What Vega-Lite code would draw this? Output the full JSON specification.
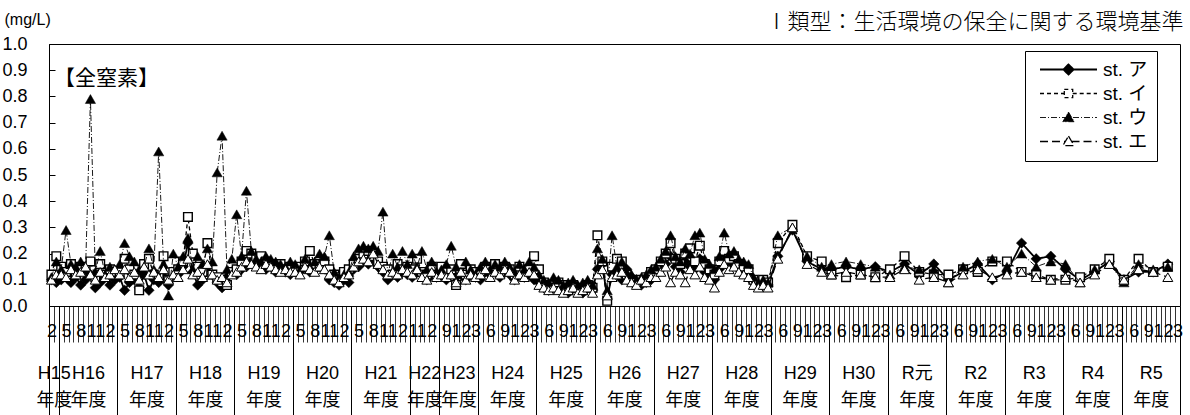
{
"$schema":"https://vega.github.io/schema/vega-lite/v6.json",
"width":1131,"height":262,
"autosize":{"type":"none"},
"padding":{"left":49,"top":44,"right":10,"bottom":109},
"background":"white",
"config":{"view":{"stroke":"black","strokeWidth":1},"font":"Liberation Sans, Noto Sans CJK JP"},
"params":[
{"name":"yb","value":[0.5,2.5,14.5,26.5,38.5,50.5,62.5,74.5,80.5,88.5,100.5,112.5,124.5,136.5,148.5,160.5,172.5,184.5,196.5,208.5,220.5,232.5]},
{"name":"yc","value":[1.5,8.5,20.5,32.5,44.5,56.5,68.5,77.5,84.5,94.5,106.5,118.5,130.5,142.5,154.5,166.5,178.5,190.5,202.5,214.5,226.5]},
{"name":"yl","value":["H15","H16","H17","H18","H19","H20","H21","H22","H23","H24","H25","H26","H27","H28","H29","H30","R元","R2","R3","R4","R5"]}
],
"title":{"text":"【全窒素】","anchor":"start","frame":"group","orient":"top","offset":-90,"baseline":"middle","dx":5,"fontSize":21,"fontWeight":"normal","font":"Noto Sans CJK JP","color":"black"},
"data":{"values":[
{"t":1,"s":"ア","v":0.1},{"t":2,"s":"ア","v":0.09},{"t":3,"s":"ア","v":0.1},{"t":4,"s":"ア","v":0.12},{"t":5,"s":"ア","v":0.09},{"t":6,"s":"ア","v":0.11},{"t":7,"s":"ア","v":0.08},{"t":8,"s":"ア","v":0.1},{"t":9,"s":"ア","v":0.12},{"t":10,"s":"ア","v":0.07},{"t":11,"s":"ア","v":0.09},{"t":12,"s":"ア","v":0.11},{"t":13,"s":"ア","v":0.08},{"t":14,"s":"ア","v":0.1},
{"t":15,"s":"ア","v":0.11},{"t":16,"s":"ア","v":0.06},{"t":17,"s":"ア","v":0.09},{"t":18,"s":"ア","v":0.1},{"t":19,"s":"ア","v":0.07},{"t":20,"s":"ア","v":0.12},{"t":21,"s":"ア","v":0.06},{"t":22,"s":"ア","v":0.1},{"t":23,"s":"ア","v":0.09},{"t":24,"s":"ア","v":0.11},{"t":25,"s":"ア","v":0.08},{"t":26,"s":"ア","v":0.12},
{"t":27,"s":"ア","v":0.12},{"t":28,"s":"ア","v":0.15},{"t":29,"s":"ア","v":0.24},{"t":30,"s":"ア","v":0.13},{"t":31,"s":"ア","v":0.08},{"t":32,"s":"ア","v":0.1},{"t":33,"s":"ア","v":0.15},{"t":34,"s":"ア","v":0.12},{"t":35,"s":"ア","v":0.09},{"t":36,"s":"ア","v":0.07},{"t":37,"s":"ア","v":0.11},{"t":38,"s":"ア","v":0.13},
{"t":39,"s":"ア","v":0.12},{"t":40,"s":"ア","v":0.14},{"t":41,"s":"ア","v":0.15},{"t":42,"s":"ア","v":0.17},{"t":43,"s":"ア","v":0.16},{"t":44,"s":"ア","v":0.15},{"t":45,"s":"ア","v":0.14},{"t":46,"s":"ア","v":0.16},{"t":47,"s":"ア","v":0.13},{"t":48,"s":"ア","v":0.15},{"t":49,"s":"ア","v":0.13},{"t":50,"s":"ア","v":0.12},
{"t":51,"s":"ア","v":0.13},{"t":52,"s":"ア","v":0.14},{"t":53,"s":"ア","v":0.15},{"t":54,"s":"ア","v":0.13},{"t":55,"s":"ア","v":0.14},{"t":56,"s":"ア","v":0.16},{"t":57,"s":"ア","v":0.15},{"t":58,"s":"ア","v":0.1},{"t":59,"s":"ア","v":0.09},{"t":60,"s":"ア","v":0.08},{"t":61,"s":"ア","v":0.1},{"t":62,"s":"ア","v":0.09},
{"t":63,"s":"ア","v":0.14},{"t":64,"s":"ア","v":0.15},{"t":65,"s":"ア","v":0.17},{"t":66,"s":"ア","v":0.16},{"t":67,"s":"ア","v":0.18},{"t":68,"s":"ア","v":0.15},{"t":69,"s":"ア","v":0.13},{"t":70,"s":"ア","v":0.1},{"t":71,"s":"ア","v":0.12},{"t":72,"s":"ア","v":0.11},{"t":73,"s":"ア","v":0.13},{"t":74,"s":"ア","v":0.12},
{"t":75,"s":"ア","v":0.11},{"t":76,"s":"ア","v":0.13},{"t":77,"s":"ア","v":0.12},{"t":78,"s":"ア","v":0.1},{"t":79,"s":"ア","v":0.12},{"t":80,"s":"ア","v":0.11},
{"t":81,"s":"ア","v":0.12},{"t":82,"s":"ア","v":0.1},{"t":83,"s":"ア","v":0.13},{"t":84,"s":"ア","v":0.11},{"t":85,"s":"ア","v":0.12},{"t":86,"s":"ア","v":0.1},{"t":87,"s":"ア","v":0.13},{"t":88,"s":"ア","v":0.11},
{"t":89,"s":"ア","v":0.1},{"t":90,"s":"ア","v":0.13},{"t":91,"s":"ア","v":0.12},{"t":92,"s":"ア","v":0.14},{"t":93,"s":"ア","v":0.11},{"t":94,"s":"ア","v":0.13},{"t":95,"s":"ア","v":0.12},{"t":96,"s":"ア","v":0.1},{"t":97,"s":"ア","v":0.13},{"t":98,"s":"ア","v":0.11},{"t":99,"s":"ア","v":0.12},{"t":100,"s":"ア","v":0.1},
{"t":101,"s":"ア","v":0.09},{"t":102,"s":"ア","v":0.07},{"t":103,"s":"ア","v":0.06},{"t":104,"s":"ア","v":0.08},{"t":105,"s":"ア","v":0.07},{"t":106,"s":"ア","v":0.06},{"t":107,"s":"ア","v":0.05},{"t":108,"s":"ア","v":0.07},{"t":109,"s":"ア","v":0.06},{"t":110,"s":"ア","v":0.05},{"t":111,"s":"ア","v":0.07},{"t":112,"s":"ア","v":0.06},
{"t":113,"s":"ア","v":0.14},{"t":114,"s":"ア","v":0.16},{"t":115,"s":"ア","v":0.03},{"t":116,"s":"ア","v":0.12},{"t":117,"s":"ア","v":0.13},{"t":118,"s":"ア","v":0.1},{"t":119,"s":"ア","v":0.14},{"t":120,"s":"ア","v":0.11},{"t":121,"s":"ア","v":0.1},{"t":122,"s":"ア","v":0.08},{"t":123,"s":"ア","v":0.09},{"t":124,"s":"ア","v":0.1},
{"t":125,"s":"ア","v":0.12},{"t":126,"s":"ア","v":0.14},{"t":127,"s":"ア","v":0.16},{"t":128,"s":"ア","v":0.19},{"t":129,"s":"ア","v":0.15},{"t":130,"s":"ア","v":0.13},{"t":131,"s":"ア","v":0.17},{"t":132,"s":"ア","v":0.15},{"t":133,"s":"ア","v":0.14},{"t":134,"s":"ア","v":0.18},{"t":135,"s":"ア","v":0.13},{"t":136,"s":"ア","v":0.12},
{"t":137,"s":"ア","v":0.1},{"t":138,"s":"ア","v":0.14},{"t":139,"s":"ア","v":0.18},{"t":140,"s":"ア","v":0.15},{"t":141,"s":"ア","v":0.17},{"t":142,"s":"ア","v":0.14},{"t":143,"s":"ア","v":0.13},{"t":144,"s":"ア","v":0.12},{"t":145,"s":"ア","v":0.09},{"t":146,"s":"ア","v":0.08},{"t":147,"s":"ア","v":0.09},{"t":148,"s":"ア","v":0.08},
{"t":150,"s":"ア","v":0.19},{"t":153,"s":"ア","v":0.29},{"t":156,"s":"ア","v":0.17},{"t":159,"s":"ア","v":0.14},
{"t":161,"s":"ア","v":0.14},{"t":164,"s":"ア","v":0.15},{"t":167,"s":"ア","v":0.14},{"t":170,"s":"ア","v":0.15},
{"t":173,"s":"ア","v":0.13},{"t":176,"s":"ア","v":0.16},{"t":179,"s":"ア","v":0.12},{"t":182,"s":"ア","v":0.16},
{"t":185,"s":"ア","v":0.1},{"t":188,"s":"ア","v":0.13},{"t":191,"s":"ア","v":0.16},{"t":194,"s":"ア","v":0.1},
{"t":197,"s":"ア","v":0.13},{"t":200,"s":"ア","v":0.24},{"t":203,"s":"ア","v":0.18},{"t":206,"s":"ア","v":0.19},
{"t":209,"s":"ア","v":0.14},{"t":212,"s":"ア","v":0.1},{"t":215,"s":"ア","v":0.13},{"t":218,"s":"ア","v":0.17},
{"t":221,"s":"ア","v":0.1},{"t":224,"s":"ア","v":0.13},{"t":227,"s":"ア","v":0.13},{"t":230,"s":"ア","v":0.16},

{"t":1,"s":"イ","v":0.12},{"t":2,"s":"イ","v":0.19},{"t":3,"s":"イ","v":0.15},{"t":4,"s":"イ","v":0.13},{"t":5,"s":"イ","v":0.16},{"t":6,"s":"イ","v":0.12},{"t":7,"s":"イ","v":0.15},{"t":8,"s":"イ","v":0.14},{"t":9,"s":"イ","v":0.17},{"t":10,"s":"イ","v":0.11},{"t":11,"s":"イ","v":0.16},{"t":12,"s":"イ","v":0.12},{"t":13,"s":"イ","v":0.14},{"t":14,"s":"イ","v":0.13},
{"t":15,"s":"イ","v":0.13},{"t":16,"s":"イ","v":0.18},{"t":17,"s":"イ","v":0.14},{"t":18,"s":"イ","v":0.12},{"t":19,"s":"イ","v":0.06},{"t":20,"s":"イ","v":0.16},{"t":21,"s":"イ","v":0.18},{"t":22,"s":"イ","v":0.12},{"t":23,"s":"イ","v":0.11},{"t":24,"s":"イ","v":0.19},{"t":25,"s":"イ","v":0.1},{"t":26,"s":"イ","v":0.13},
{"t":27,"s":"イ","v":0.14},{"t":28,"s":"イ","v":0.17},{"t":29,"s":"イ","v":0.34},{"t":30,"s":"イ","v":0.2},{"t":31,"s":"イ","v":0.15},{"t":32,"s":"イ","v":0.13},{"t":33,"s":"イ","v":0.24},{"t":34,"s":"イ","v":0.12},{"t":35,"s":"イ","v":0.11},{"t":36,"s":"イ","v":0.09},{"t":37,"s":"イ","v":0.08},{"t":38,"s":"イ","v":0.13},
{"t":39,"s":"イ","v":0.14},{"t":40,"s":"イ","v":0.17},{"t":41,"s":"イ","v":0.21},{"t":42,"s":"イ","v":0.2},{"t":43,"s":"イ","v":0.18},{"t":44,"s":"イ","v":0.19},{"t":45,"s":"イ","v":0.17},{"t":46,"s":"イ","v":0.16},{"t":47,"s":"イ","v":0.15},{"t":48,"s":"イ","v":0.16},{"t":49,"s":"イ","v":0.14},{"t":50,"s":"イ","v":0.15},
{"t":51,"s":"イ","v":0.14},{"t":52,"s":"イ","v":0.15},{"t":53,"s":"イ","v":0.17},{"t":54,"s":"イ","v":0.21},{"t":55,"s":"イ","v":0.16},{"t":56,"s":"イ","v":0.15},{"t":57,"s":"イ","v":0.17},{"t":58,"s":"イ","v":0.14},{"t":59,"s":"イ","v":0.12},{"t":60,"s":"イ","v":0.11},{"t":61,"s":"イ","v":0.13},{"t":62,"s":"イ","v":0.14},
{"t":63,"s":"イ","v":0.16},{"t":64,"s":"イ","v":0.18},{"t":65,"s":"イ","v":0.2},{"t":66,"s":"イ","v":0.21},{"t":67,"s":"イ","v":0.19},{"t":68,"s":"イ","v":0.17},{"t":69,"s":"イ","v":0.15},{"t":70,"s":"イ","v":0.14},{"t":71,"s":"イ","v":0.12},{"t":72,"s":"イ","v":0.16},{"t":73,"s":"イ","v":0.14},{"t":74,"s":"イ","v":0.15},
{"t":75,"s":"イ","v":0.14},{"t":76,"s":"イ","v":0.18},{"t":77,"s":"イ","v":0.13},{"t":78,"s":"イ","v":0.12},{"t":79,"s":"イ","v":0.15},{"t":80,"s":"イ","v":0.12},
{"t":81,"s":"イ","v":0.15},{"t":82,"s":"イ","v":0.13},{"t":83,"s":"イ","v":0.14},{"t":84,"s":"イ","v":0.08},{"t":85,"s":"イ","v":0.16},{"t":86,"s":"イ","v":0.12},{"t":87,"s":"イ","v":0.14},{"t":88,"s":"イ","v":0.13},
{"t":89,"s":"イ","v":0.13},{"t":90,"s":"イ","v":0.15},{"t":91,"s":"イ","v":0.14},{"t":92,"s":"イ","v":0.16},{"t":93,"s":"イ","v":0.13},{"t":94,"s":"イ","v":0.15},{"t":95,"s":"イ","v":0.14},{"t":96,"s":"イ","v":0.12},{"t":97,"s":"イ","v":0.15},{"t":98,"s":"イ","v":0.13},{"t":99,"s":"イ","v":0.14},{"t":100,"s":"イ","v":0.19},
{"t":101,"s":"イ","v":0.14},{"t":102,"s":"イ","v":0.09},{"t":103,"s":"イ","v":0.08},{"t":104,"s":"イ","v":0.07},{"t":105,"s":"イ","v":0.09},{"t":106,"s":"イ","v":0.08},{"t":107,"s":"イ","v":0.06},{"t":108,"s":"イ","v":0.08},{"t":109,"s":"イ","v":0.07},{"t":110,"s":"イ","v":0.06},{"t":111,"s":"イ","v":0.08},{"t":112,"s":"イ","v":0.07},
{"t":113,"s":"イ","v":0.27},{"t":114,"s":"イ","v":0.17},{"t":115,"s":"イ","v":0.02},{"t":116,"s":"イ","v":0.15},{"t":117,"s":"イ","v":0.18},{"t":118,"s":"イ","v":0.17},{"t":119,"s":"イ","v":0.12},{"t":120,"s":"イ","v":0.1},{"t":121,"s":"イ","v":0.09},{"t":122,"s":"イ","v":0.1},{"t":123,"s":"イ","v":0.11},{"t":124,"s":"イ","v":0.13},
{"t":125,"s":"イ","v":0.14},{"t":126,"s":"イ","v":0.17},{"t":127,"s":"イ","v":0.2},{"t":128,"s":"イ","v":0.24},{"t":129,"s":"イ","v":0.18},{"t":130,"s":"イ","v":0.16},{"t":131,"s":"イ","v":0.2},{"t":132,"s":"イ","v":0.22},{"t":133,"s":"イ","v":0.17},{"t":134,"s":"イ","v":0.23},{"t":135,"s":"イ","v":0.16},{"t":136,"s":"イ","v":0.14},
{"t":137,"s":"イ","v":0.12},{"t":138,"s":"イ","v":0.17},{"t":139,"s":"イ","v":0.21},{"t":140,"s":"イ","v":0.18},{"t":141,"s":"イ","v":0.19},{"t":142,"s":"イ","v":0.16},{"t":143,"s":"イ","v":0.15},{"t":144,"s":"イ","v":0.14},{"t":145,"s":"イ","v":0.1},{"t":146,"s":"イ","v":0.09},{"t":147,"s":"イ","v":0.1},{"t":148,"s":"イ","v":0.09},
{"t":150,"s":"イ","v":0.24},{"t":153,"s":"イ","v":0.31},{"t":156,"s":"イ","v":0.19},{"t":159,"s":"イ","v":0.17},
{"t":161,"s":"イ","v":0.12},{"t":164,"s":"イ","v":0.11},{"t":167,"s":"イ","v":0.12},{"t":170,"s":"イ","v":0.11},
{"t":173,"s":"イ","v":0.14},{"t":176,"s":"イ","v":0.19},{"t":179,"s":"イ","v":0.13},{"t":182,"s":"イ","v":0.12},
{"t":185,"s":"イ","v":0.12},{"t":188,"s":"イ","v":0.14},{"t":191,"s":"イ","v":0.13},{"t":194,"s":"イ","v":0.17},
{"t":197,"s":"イ","v":0.17},{"t":200,"s":"イ","v":0.13},{"t":203,"s":"イ","v":0.12},{"t":206,"s":"イ","v":0.1},
{"t":209,"s":"イ","v":0.1},{"t":212,"s":"イ","v":0.11},{"t":215,"s":"イ","v":0.14},{"t":218,"s":"イ","v":0.18},
{"t":221,"s":"イ","v":0.1},{"t":224,"s":"イ","v":0.18},{"t":227,"s":"イ","v":0.13},{"t":230,"s":"イ","v":0.15},

{"t":1,"s":"ウ","v":0.11},{"t":2,"s":"ウ","v":0.17},{"t":3,"s":"ウ","v":0.14},{"t":4,"s":"ウ","v":0.29},{"t":5,"s":"ウ","v":0.16},{"t":6,"s":"ウ","v":0.15},{"t":7,"s":"ウ","v":0.17},{"t":8,"s":"ウ","v":0.14},{"t":9,"s":"ウ","v":0.79},{"t":10,"s":"ウ","v":0.13},{"t":11,"s":"ウ","v":0.21},{"t":12,"s":"ウ","v":0.12},{"t":13,"s":"ウ","v":0.15},{"t":14,"s":"ウ","v":0.14},
{"t":15,"s":"ウ","v":0.16},{"t":16,"s":"ウ","v":0.24},{"t":17,"s":"ウ","v":0.19},{"t":18,"s":"ウ","v":0.17},{"t":19,"s":"ウ","v":0.14},{"t":20,"s":"ウ","v":0.15},{"t":21,"s":"ウ","v":0.22},{"t":22,"s":"ウ","v":0.14},{"t":23,"s":"ウ","v":0.59},{"t":24,"s":"ウ","v":0.16},{"t":25,"s":"ウ","v":0.04},{"t":26,"s":"ウ","v":0.2},
{"t":27,"s":"ウ","v":0.15},{"t":28,"s":"ウ","v":0.19},{"t":29,"s":"ウ","v":0.26},{"t":30,"s":"ウ","v":0.14},{"t":31,"s":"ウ","v":0.19},{"t":32,"s":"ウ","v":0.16},{"t":33,"s":"ウ","v":0.22},{"t":34,"s":"ウ","v":0.17},{"t":35,"s":"ウ","v":0.51},{"t":36,"s":"ウ","v":0.65},{"t":37,"s":"ウ","v":0.14},{"t":38,"s":"ウ","v":0.18},
{"t":39,"s":"ウ","v":0.35},{"t":40,"s":"ウ","v":0.19},{"t":41,"s":"ウ","v":0.44},{"t":42,"s":"ウ","v":0.21},{"t":43,"s":"ウ","v":0.18},{"t":44,"s":"ウ","v":0.17},{"t":45,"s":"ウ","v":0.19},{"t":46,"s":"ウ","v":0.18},{"t":47,"s":"ウ","v":0.17},{"t":48,"s":"ウ","v":0.16},{"t":49,"s":"ウ","v":0.15},{"t":50,"s":"ウ","v":0.17},
{"t":51,"s":"ウ","v":0.16},{"t":52,"s":"ウ","v":0.14},{"t":53,"s":"ウ","v":0.18},{"t":54,"s":"ウ","v":0.15},{"t":55,"s":"ウ","v":0.17},{"t":56,"s":"ウ","v":0.2},{"t":57,"s":"ウ","v":0.19},{"t":58,"s":"ウ","v":0.27},{"t":59,"s":"ウ","v":0.13},{"t":60,"s":"ウ","v":0.11},{"t":61,"s":"ウ","v":0.12},{"t":62,"s":"ウ","v":0.13},
{"t":63,"s":"ウ","v":0.19},{"t":64,"s":"ウ","v":0.22},{"t":65,"s":"ウ","v":0.23},{"t":66,"s":"ウ","v":0.22},{"t":67,"s":"ウ","v":0.23},{"t":68,"s":"ウ","v":0.21},{"t":69,"s":"ウ","v":0.36},{"t":70,"s":"ウ","v":0.12},{"t":71,"s":"ウ","v":0.2},{"t":72,"s":"ウ","v":0.15},{"t":73,"s":"ウ","v":0.21},{"t":74,"s":"ウ","v":0.16},
{"t":75,"s":"ウ","v":0.2},{"t":76,"s":"ウ","v":0.15},{"t":77,"s":"ウ","v":0.21},{"t":78,"s":"ウ","v":0.14},{"t":79,"s":"ウ","v":0.17},{"t":80,"s":"ウ","v":0.13},
{"t":81,"s":"ウ","v":0.14},{"t":82,"s":"ウ","v":0.16},{"t":83,"s":"ウ","v":0.23},{"t":84,"s":"ウ","v":0.15},{"t":85,"s":"ウ","v":0.13},{"t":86,"s":"ウ","v":0.17},{"t":87,"s":"ウ","v":0.14},{"t":88,"s":"ウ","v":0.12},
{"t":89,"s":"ウ","v":0.15},{"t":90,"s":"ウ","v":0.17},{"t":91,"s":"ウ","v":0.14},{"t":92,"s":"ウ","v":0.16},{"t":93,"s":"ウ","v":0.15},{"t":94,"s":"ウ","v":0.17},{"t":95,"s":"ウ","v":0.15},{"t":96,"s":"ウ","v":0.13},{"t":97,"s":"ウ","v":0.16},{"t":98,"s":"ウ","v":0.14},{"t":99,"s":"ウ","v":0.17},{"t":100,"s":"ウ","v":0.15},
{"t":101,"s":"ウ","v":0.12},{"t":102,"s":"ウ","v":0.1},{"t":103,"s":"ウ","v":0.09},{"t":104,"s":"ウ","v":0.11},{"t":105,"s":"ウ","v":0.1},{"t":106,"s":"ウ","v":0.08},{"t":107,"s":"ウ","v":0.09},{"t":108,"s":"ウ","v":0.1},{"t":109,"s":"ウ","v":0.08},{"t":110,"s":"ウ","v":0.09},{"t":111,"s":"ウ","v":0.1},{"t":112,"s":"ウ","v":0.08},
{"t":113,"s":"ウ","v":0.22},{"t":114,"s":"ウ","v":0.18},{"t":115,"s":"ウ","v":0.06},{"t":116,"s":"ウ","v":0.27},{"t":117,"s":"ウ","v":0.15},{"t":118,"s":"ウ","v":0.17},{"t":119,"s":"ウ","v":0.13},{"t":120,"s":"ウ","v":0.12},{"t":121,"s":"ウ","v":0.1},{"t":122,"s":"ウ","v":0.11},{"t":123,"s":"ウ","v":0.12},{"t":124,"s":"ウ","v":0.14},
{"t":125,"s":"ウ","v":0.15},{"t":126,"s":"ウ","v":0.18},{"t":127,"s":"ウ","v":0.21},{"t":128,"s":"ウ","v":0.27},{"t":129,"s":"ウ","v":0.19},{"t":130,"s":"ウ","v":0.17},{"t":131,"s":"ウ","v":0.22},{"t":132,"s":"ウ","v":0.2},{"t":133,"s":"ウ","v":0.27},{"t":134,"s":"ウ","v":0.28},{"t":135,"s":"ウ","v":0.18},{"t":136,"s":"ウ","v":0.16},
{"t":137,"s":"ウ","v":0.14},{"t":138,"s":"ウ","v":0.19},{"t":139,"s":"ウ","v":0.28},{"t":140,"s":"ウ","v":0.2},{"t":141,"s":"ウ","v":0.21},{"t":142,"s":"ウ","v":0.18},{"t":143,"s":"ウ","v":0.17},{"t":144,"s":"ウ","v":0.16},{"t":145,"s":"ウ","v":0.11},{"t":146,"s":"ウ","v":0.09},{"t":147,"s":"ウ","v":0.1},{"t":148,"s":"ウ","v":0.09},
{"t":150,"s":"ウ","v":0.27},{"t":153,"s":"ウ","v":0.3},{"t":156,"s":"ウ","v":0.19},{"t":159,"s":"ウ","v":0.15},
{"t":161,"s":"ウ","v":0.16},{"t":164,"s":"ウ","v":0.17},{"t":167,"s":"ウ","v":0.16},{"t":170,"s":"ウ","v":0.15},
{"t":173,"s":"ウ","v":0.12},{"t":176,"s":"ウ","v":0.15},{"t":179,"s":"ウ","v":0.14},{"t":182,"s":"ウ","v":0.14},
{"t":185,"s":"ウ","v":0.09},{"t":188,"s":"ウ","v":0.15},{"t":191,"s":"ウ","v":0.17},{"t":194,"s":"ウ","v":0.18},
{"t":197,"s":"ウ","v":0.15},{"t":200,"s":"ウ","v":0.2},{"t":203,"s":"ウ","v":0.15},{"t":206,"s":"ウ","v":0.17},
{"t":209,"s":"ウ","v":0.16},{"t":212,"s":"ウ","v":0.09},{"t":215,"s":"ウ","v":0.14},{"t":218,"s":"ウ","v":0.16},
{"t":221,"s":"ウ","v":0.09},{"t":224,"s":"ウ","v":0.16},{"t":227,"s":"ウ","v":0.14},{"t":230,"s":"ウ","v":0.15},

{"t":1,"s":"エ","v":0.1},{"t":2,"s":"エ","v":0.12},{"t":3,"s":"エ","v":0.12},{"t":4,"s":"エ","v":0.11},{"t":5,"s":"エ","v":0.14},{"t":6,"s":"エ","v":0.12},{"t":7,"s":"エ","v":0.13},{"t":8,"s":"エ","v":0.15},{"t":9,"s":"エ","v":0.12},{"t":10,"s":"エ","v":0.1},{"t":11,"s":"エ","v":0.13},{"t":12,"s":"エ","v":0.11},{"t":13,"s":"エ","v":0.12},{"t":14,"s":"エ","v":0.14},
{"t":15,"s":"エ","v":0.12},{"t":16,"s":"エ","v":0.14},{"t":17,"s":"エ","v":0.11},{"t":18,"s":"エ","v":0.13},{"t":19,"s":"エ","v":0.1},{"t":20,"s":"エ","v":0.15},{"t":21,"s":"エ","v":0.12},{"t":22,"s":"エ","v":0.13},{"t":23,"s":"エ","v":0.11},{"t":24,"s":"エ","v":0.14},{"t":25,"s":"エ","v":0.1},{"t":26,"s":"エ","v":0.12},
{"t":27,"s":"エ","v":0.11},{"t":28,"s":"エ","v":0.14},{"t":29,"s":"エ","v":0.18},{"t":30,"s":"エ","v":0.12},{"t":31,"s":"エ","v":0.13},{"t":32,"s":"エ","v":0.11},{"t":33,"s":"エ","v":0.16},{"t":34,"s":"エ","v":0.12},{"t":35,"s":"エ","v":0.1},{"t":36,"s":"エ","v":0.11},{"t":37,"s":"エ","v":0.09},{"t":38,"s":"エ","v":0.12},
{"t":39,"s":"エ","v":0.13},{"t":40,"s":"エ","v":0.15},{"t":41,"s":"エ","v":0.17},{"t":42,"s":"エ","v":0.16},{"t":43,"s":"エ","v":0.15},{"t":44,"s":"エ","v":0.14},{"t":45,"s":"エ","v":0.16},{"t":46,"s":"エ","v":0.15},{"t":47,"s":"エ","v":0.14},{"t":48,"s":"エ","v":0.13},{"t":49,"s":"エ","v":0.14},{"t":50,"s":"エ","v":0.13},
{"t":51,"s":"エ","v":0.13},{"t":52,"s":"エ","v":0.12},{"t":53,"s":"エ","v":0.15},{"t":54,"s":"エ","v":0.14},{"t":55,"s":"エ","v":0.13},{"t":56,"s":"エ","v":0.15},{"t":57,"s":"エ","v":0.14},{"t":58,"s":"エ","v":0.12},{"t":59,"s":"エ","v":0.1},{"t":60,"s":"エ","v":0.09},{"t":61,"s":"エ","v":0.11},{"t":62,"s":"エ","v":0.12},
{"t":63,"s":"エ","v":0.15},{"t":64,"s":"エ","v":0.17},{"t":65,"s":"エ","v":0.18},{"t":66,"s":"エ","v":0.17},{"t":67,"s":"エ","v":0.2},{"t":68,"s":"エ","v":0.16},{"t":69,"s":"エ","v":0.14},{"t":70,"s":"エ","v":0.12},{"t":71,"s":"エ","v":0.13},{"t":72,"s":"エ","v":0.12},{"t":73,"s":"エ","v":0.14},{"t":74,"s":"エ","v":0.13},
{"t":75,"s":"エ","v":0.12},{"t":76,"s":"エ","v":0.14},{"t":77,"s":"エ","v":0.11},{"t":78,"s":"エ","v":0.1},{"t":79,"s":"エ","v":0.13},{"t":80,"s":"エ","v":0.11},
{"t":81,"s":"エ","v":0.12},{"t":82,"s":"エ","v":0.11},{"t":83,"s":"エ","v":0.12},{"t":84,"s":"エ","v":0.09},{"t":85,"s":"エ","v":0.13},{"t":86,"s":"エ","v":0.1},{"t":87,"s":"エ","v":0.12},{"t":88,"s":"エ","v":0.11},
{"t":89,"s":"エ","v":0.12},{"t":90,"s":"エ","v":0.14},{"t":91,"s":"エ","v":0.11},{"t":92,"s":"エ","v":0.13},{"t":93,"s":"エ","v":0.12},{"t":94,"s":"エ","v":0.14},{"t":95,"s":"エ","v":0.13},{"t":96,"s":"エ","v":0.1},{"t":97,"s":"エ","v":0.12},{"t":98,"s":"エ","v":0.11},{"t":99,"s":"エ","v":0.13},{"t":100,"s":"エ","v":0.12},
{"t":101,"s":"エ","v":0.08},{"t":102,"s":"エ","v":0.07},{"t":103,"s":"エ","v":0.06},{"t":104,"s":"エ","v":0.07},{"t":105,"s":"エ","v":0.06},{"t":106,"s":"エ","v":0.05},{"t":107,"s":"エ","v":0.06},{"t":108,"s":"エ","v":0.07},{"t":109,"s":"エ","v":0.05},{"t":110,"s":"エ","v":0.06},{"t":111,"s":"エ","v":0.07},{"t":112,"s":"エ","v":0.05},
{"t":113,"s":"エ","v":0.12},{"t":114,"s":"エ","v":0.14},{"t":115,"s":"エ","v":0.04},{"t":116,"s":"エ","v":0.11},{"t":117,"s":"エ","v":0.12},{"t":118,"s":"エ","v":0.13},{"t":119,"s":"エ","v":0.1},{"t":120,"s":"エ","v":0.09},{"t":121,"s":"エ","v":0.08},{"t":122,"s":"エ","v":0.1},{"t":123,"s":"エ","v":0.09},{"t":124,"s":"エ","v":0.11},
{"t":125,"s":"エ","v":0.11},{"t":126,"s":"エ","v":0.13},{"t":127,"s":"エ","v":0.15},{"t":128,"s":"エ","v":0.09},{"t":129,"s":"エ","v":0.13},{"t":130,"s":"エ","v":0.12},{"t":131,"s":"エ","v":0.09},{"t":132,"s":"エ","v":0.14},{"t":133,"s":"エ","v":0.12},{"t":134,"s":"エ","v":0.15},{"t":135,"s":"エ","v":0.11},{"t":136,"s":"エ","v":0.1},
{"t":137,"s":"エ","v":0.07},{"t":138,"s":"エ","v":0.13},{"t":139,"s":"エ","v":0.16},{"t":140,"s":"エ","v":0.14},{"t":141,"s":"エ","v":0.15},{"t":142,"s":"エ","v":0.13},{"t":143,"s":"エ","v":0.12},{"t":144,"s":"エ","v":0.11},{"t":145,"s":"エ","v":0.08},{"t":146,"s":"エ","v":0.07},{"t":147,"s":"エ","v":0.08},{"t":148,"s":"エ","v":0.07},
{"t":150,"s":"エ","v":0.18},{"t":153,"s":"エ","v":0.3},{"t":156,"s":"エ","v":0.16},{"t":159,"s":"エ","v":0.13},
{"t":161,"s":"エ","v":0.12},{"t":164,"s":"エ","v":0.13},{"t":167,"s":"エ","v":0.12},{"t":170,"s":"エ","v":0.11},
{"t":173,"s":"エ","v":0.11},{"t":176,"s":"エ","v":0.14},{"t":179,"s":"エ","v":0.1},{"t":182,"s":"エ","v":0.11},
{"t":185,"s":"エ","v":0.09},{"t":188,"s":"エ","v":0.12},{"t":191,"s":"エ","v":0.14},{"t":194,"s":"エ","v":0.11},
{"t":197,"s":"エ","v":0.12},{"t":200,"s":"エ","v":0.13},{"t":203,"s":"エ","v":0.11},{"t":206,"s":"エ","v":0.1},
{"t":209,"s":"エ","v":0.11},{"t":212,"s":"エ","v":0.09},{"t":215,"s":"エ","v":0.12},{"t":218,"s":"エ","v":0.16},
{"t":221,"s":"エ","v":0.1},{"t":224,"s":"エ","v":0.14},{"t":227,"s":"エ","v":0.13},{"t":230,"s":"エ","v":0.11}
]},
"resolve":{"axis":{"x":"independent"}},
"encoding":{
"y":{"field":"v","type":"quantitative","scale":{"domain":[0,1],"nice":false,"zero":true},
"axis":{"values":[0,0.1,0.2,0.3,0.4,0.5,0.6,0.7,0.8,0.9,1],"format":".1f","grid":false,"tickSize":-6,"tickColor":"black","domainColor":"black","labelFontSize":18,"labelColor":"black","labelFont":"Liberation Sans","labelPadding":28,
"title":"(mg/L)","titleAngle":0,"titleX":-45,"titleY":-25,"titleAlign":"left","titleBaseline":"middle","titleFontSize":16,"titleFontWeight":"normal","titleColor":"black","titleFont":"Liberation Sans"}}
},
"layer":[
{"transform":[{"filter":"datum.s === 'ア'"}],
"mark":{"type":"line","color":"black","strokeWidth":1.8},
"encoding":{
"x":{"field":"t","type":"quantitative","scale":{"domain":[0.5,232.5],"nice":false,"zero":false},
"axis":{"orient":"bottom","grid":false,
"values":[0.5,1.5,2.5,3.5,4.5,5.5,6.5,7.5,8.5,9.5,10.5,11.5,12.5,13.5,14.5,15.5,16.5,17.5,18.5,19.5,20.5,21.5,22.5,23.5,24.5,25.5,26.5,27.5,28.5,29.5,30.5,31.5,32.5,33.5,34.5,35.5,36.5,37.5,38.5,39.5,40.5,41.5,42.5,43.5,44.5,45.5,46.5,47.5,48.5,49.5,50.5,51.5,52.5,53.5,54.5,55.5,56.5,57.5,58.5,59.5,60.5,61.5,62.5,63.5,64.5,65.5,66.5,67.5,68.5,69.5,70.5,71.5,72.5,73.5,74.5,75.5,76.5,77.5,78.5,79.5,80.5,81.5,82.5,83.5,84.5,85.5,86.5,87.5,88.5,89.5,90.5,91.5,92.5,93.5,94.5,95.5,96.5,97.5,98.5,99.5,100.5,101.5,102.5,103.5,104.5,105.5,106.5,107.5,108.5,109.5,110.5,111.5,112.5,113.5,114.5,115.5,116.5,117.5,118.5,119.5,120.5,121.5,122.5,123.5,124.5,125.5,126.5,127.5,128.5,129.5,130.5,131.5,132.5,133.5,134.5,135.5,136.5,137.5,138.5,139.5,140.5,141.5,142.5,143.5,144.5,145.5,146.5,147.5,148.5,149.5,150.5,151.5,152.5,153.5,154.5,155.5,156.5,157.5,158.5,159.5,160.5,161.5,162.5,163.5,164.5,165.5,166.5,167.5,168.5,169.5,170.5,171.5,172.5,173.5,174.5,175.5,176.5,177.5,178.5,179.5,180.5,181.5,182.5,183.5,184.5,185.5,186.5,187.5,188.5,189.5,190.5,191.5,192.5,193.5,194.5,195.5,196.5,197.5,198.5,199.5,200.5,201.5,202.5,203.5,204.5,205.5,206.5,207.5,208.5,209.5,210.5,211.5,212.5,213.5,214.5,215.5,216.5,217.5,218.5,219.5,220.5,221.5,222.5,223.5,224.5,225.5,226.5,227.5,228.5,229.5,230.5,231.5,232.5],
"tickSize":{"condition":{"test":"indexof(yb, datum.value) >= 0","value":110},"value":36},
"tickWidth":{"condition":{"test":"indexof(yb, datum.value) >= 0","value":1},"value":0.8},
"tickColor":"black","domainColor":"black","domainWidth":1,
"labelExpr":"indexof(yc, datum.value) >= 0 ? [yl[indexof(yc, datum.value)], '年度'] : ''",
"labelOverlap":false,"labelBound":false,"labelFlush":false,"labelPadding":22,"labelBaseline":"top","labelLineHeight":27,"labelFontSize":18,"labelColor":"black","labelFont":"Liberation Sans, Noto Sans CJK JP",
"title":"Ⅰ類型：生活環境の保全に関する環境基準","titleX":1134,"titleY":-285,"titleAlign":"right","titleBaseline":"middle","titleFont":"Noto Sans CJK JP","titleFontWeight":300,"titleFontSize":22,"titleColor":"black"}},
"strokeDash":{"field":"s","type":"nominal","scale":{"domain":["ア","イ","ウ","エ"],"range":[[1,0],[4,3],[6,2,1,2],[8,4]]},
"legend":{"orient":"none","legendX":976,"legendY":7,"title":null,"strokeColor":"black","fillColor":"white","padding":9,"rowPadding":4,"symbolSize":144,"symbolOffset":25,"labelOffset":25,"labelFontSize":19,"labelFont":"Liberation Sans, Noto Sans CJK JP","labelColor":"black","labelExpr":"'st. ' + datum.label","symbolStrokeColor":"black",
"encode":{"symbols":{"update":{
"shape":{"signal":"datum.value === 'ア' ? 'M-4.75,0H4.75M0,-0.85L0.85,0L0,0.85L-0.85,0Z' : datum.value === 'イ' ? 'M-4.75,0H-0.7M0.7,0H4.75M-0.7,-0.7H0.7V0.7H-0.7Z' : datum.value === 'ウ' ? 'M-4.75,0H4.75M0,-0.9L0.95,0.7L-0.95,0.7Z' : 'M-4.75,0H-0.5M0.5,0H4.75M0,-0.9L0.95,0.7L-0.95,0.7Z'"},
"fill":{"signal":"datum.value === 'ア' || datum.value === 'ウ' ? 'black' : 'white'"},
"stroke":{"value":"black"},
"strokeWidth":{"signal":"datum.value === 'ア' ? 1.8 : datum.value === 'ウ' ? 0.9 : 1.3"},
"opacity":{"value":1}}}}}}
}},
{"transform":[{"filter":"datum.s === 'ア'"}],
"mark":{"type":"point","shape":"diamond","filled":true,"fill":"black","stroke":"black","strokeWidth":0.5,"size":110,"opacity":1},
"encoding":{
"x":{"field":"t","type":"quantitative",
"axis":{"orient":"bottom","grid":false,"ticks":false,"domain":false,
"values":[1,4,7,10,13,16,19,22,25,28,31,34,37,40,43,46,49,52,55,58,61,64,67,70,73,76,79,82,85,88,91,94,97,100,103,106,109,112,115,118,121,124,127,130,133,136,139,142,145,148,151,154,157,160,163,166,169,172,175,178,181,184,187,190,193,196,199,202,205,208,211,214,217,220,223,226,229,232],
"labelExpr":"'' + ((datum.value <= 74 ? datum.value : datum.value <= 80 ? datum.value + 6 : datum.value + 10) % 12 + 1)",
"labelOverlap":false,"labelBound":false,"labelFlush":false,"labelPadding":25,"labelBaseline":"middle","labelFontSize":18,"labelFont":"Liberation Sans Narrow, Liberation Sans","labelColor":"black","title":null}}}},
{"transform":[{"filter":"datum.s === 'イ'"}],
"mark":{"type":"line","color":"black","strokeWidth":1.3},
"encoding":{"x":{"field":"t","type":"quantitative","axis":null},"strokeDash":{"field":"s","type":"nominal"}}},
{"transform":[{"filter":"datum.s === 'イ'"}],
"mark":{"type":"point","shape":"square","filled":true,"fill":"white","stroke":"black","strokeWidth":1.4,"size":75,"opacity":1},
"encoding":{"x":{"field":"t","type":"quantitative","axis":null}}},
{"transform":[{"filter":"datum.s === 'ウ'"}],
"mark":{"type":"line","color":"black","strokeWidth":0.9},
"encoding":{"x":{"field":"t","type":"quantitative","axis":null},"strokeDash":{"field":"s","type":"nominal"}}},
{"transform":[{"filter":"datum.s === 'ウ'"}],
"mark":{"type":"point","shape":"triangle-up","filled":true,"fill":"black","stroke":"black","strokeWidth":0.5,"size":105,"opacity":1},
"encoding":{"x":{"field":"t","type":"quantitative","axis":null}}},
{"transform":[{"filter":"datum.s === 'エ'"}],
"mark":{"type":"line","color":"black","strokeWidth":1.3},
"encoding":{"x":{"field":"t","type":"quantitative","axis":null},"strokeDash":{"field":"s","type":"nominal"}}},
{"transform":[{"filter":"datum.s === 'エ'"}],
"mark":{"type":"point","shape":"triangle-up","filled":true,"fill":"white","stroke":"black","strokeWidth":1,"size":100,"opacity":1},
"encoding":{"x":{"field":"t","type":"quantitative","axis":null}}}
]
}
